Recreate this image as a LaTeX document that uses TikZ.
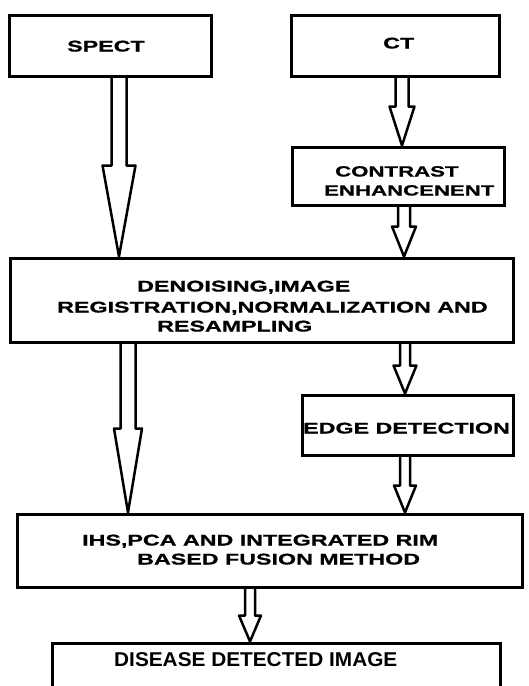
\documentclass[tikz,border=0pt]{standalone}
\usepackage{fontspec}
\setmainfont{Liberation Sans}
\newfontfamily\widefont{Liberation Sans}[FakeStretch=1.5,FakeBold=0.8]
\newfontfamily\plainfont{Liberation Sans}[FakeStretch=1.04]
\usetikzlibrary{calc}
\tikzset{
  box/.style={draw, line width=3pt, inner sep=0pt},
  wtext/.style={font=\widefont\bfseries\fontsize{15.5}{18}\selectfont, inner sep=0pt, anchor=base west},
  wtextsmall/.style={font=\widefont\bfseries\fontsize{14.8}{18}\selectfont, inner sep=0pt, anchor=base west},
  ptext/.style={font=\plainfont\bfseries\fontsize{20}{23}\selectfont, inner sep=0pt, anchor=base west},
  arrowline/.style={line width=2.5pt, line join=round}
}
% #1 x, #2 from node, #3 to node, #4 shaft half width, #5 head half width, #6 head length
\newcommand\blockarrow[6]{%
  \draw[arrowline] let \p1=(#2.south), \p2=(#3.north) in
    (#1pt-#4pt,\y1) -- (#1pt-#4pt,\y2+#6pt) -- (#1pt-#5pt,\y2+#6pt) -- (#1pt,\y2)
    -- (#1pt+#5pt,\y2+#6pt) -- (#1pt+#4pt,\y2+#6pt) -- (#1pt+#4pt,\y1);}
\begin{document}
\begin{tikzpicture}[x=1pt,y=-1pt]
\useasboundingbox (0,0) rectangle (528,686);
% boxes
\node[box, minimum width=202pt, minimum height=61pt] (spect) at (110,45.5) {};
\node[box, minimum width=208pt, minimum height=61pt] (ct) at (395,45.5) {};
\node[box, minimum width=212pt, minimum height=58pt] (contrast) at (398,176) {};
\node[box, minimum width=503pt, minimum height=84pt] (denoise) at (261.5,300) {};
\node[box, minimum width=211pt, minimum height=60pt] (edge) at (407.5,425) {};
\node[box, minimum width=505pt, minimum height=73pt] (fusion) at (269.5,550.5) {};
\node[box, minimum width=448pt, minimum height=58pt] (disease) at (276,672) {};
% texts
\node[wtext] (tspect) at (67,51.5) {SPECT};
\node[wtext] (tct) at (383,48.5) {CT};
\node[wtextsmall] (tcon1) at (335,176.5) {CONTRAST};
\node[wtextsmall] (tcon2) at (324,195.5) {ENHANCENENT};
\node[wtext] (tden1) at (137,291.5) {DENOISING,IMAGE};
\node[wtext] (tden2) at (57,312.5) {REGISTRATION,NORMALIZATION AND};
\node[wtext] (tden3) at (157,331.5) {RESAMPLING};
\node[wtext] (tedge) at (303,433.5) {EDGE DETECTION};
\node[wtext] (tfus1) at (82,545.5) {IHS,PCA AND INTEGRATED RIM};
\node[wtext] (tfus2) at (137,564.5) {BASED FUSION METHOD};
\node[ptext] (tdis) at (114,666) {DISEASE DETECTED IMAGE};
% arrows
\blockarrow{119}{spect}{denoise}{7.5}{16.5}{91}
\blockarrow{402}{ct}{contrast}{6.5}{12.5}{39}
\blockarrow{404}{contrast}{denoise}{6}{12}{30}
\blockarrow{128}{denoise}{fusion}{7.5}{14}{84}
\blockarrow{405}{denoise}{edge}{5}{11.5}{28}
\blockarrow{405}{edge}{fusion}{5}{11}{27}
\blockarrow{250}{fusion}{disease}{5}{11}{26}
\end{tikzpicture}
\end{document}
